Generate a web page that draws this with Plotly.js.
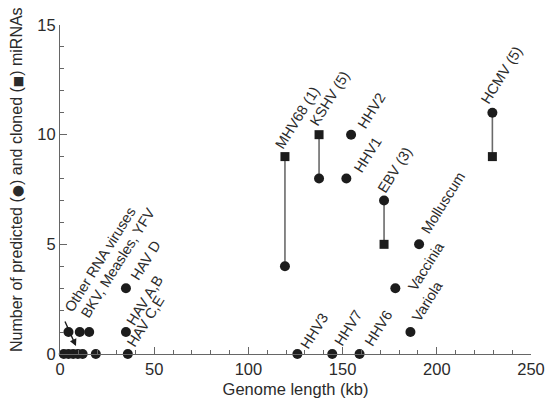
<!DOCTYPE html>
<html>
<head>
<meta charset="utf-8">
<script src="https://cdn.plot.ly/plotly-3.0.1.min.js"></script>
<style>html,body{margin:0;padding:0;background:#fff;}#chart{width:551px;height:401px;}</style>
</head>
<body>
<div id="chart"></div>
<script>
// Viruses with both predicted and cloned miRNAs
const pairedNames = ['MHV68 (1)', 'KSHV (5)', 'EBV (3)', 'HCMV (5)'];
const pairedLength = [119.4, 137.5, 172, 229.5];
const pairedPredicted = [4, 8, 7, 11];
const pairedCloned = [9, 10, 5, 9];

// Viruses with predicted miRNAs only (labelled)
const predNames = ['HHV2', 'HHV1', 'Molluscum', 'Vaccinia', 'Variola', 'HHV3', 'HHV7', 'HHV6', 'HAV D', 'HAV A,B', 'HAV C,E'];
const predLength = [154.5, 152, 190.6, 178, 186, 126, 144.5, 159, 35, 35, 36];
const predCount = [10, 8, 5, 3, 1, 0, 0, 0, 3, 1, 0];

// Small genomes (unlabelled cluster)
const bkvGroupLength = [4.5, 10.5, 15.5];      // BKV, Measles, YFV
const bkvGroupCount = [1, 1, 1];
const otherRnaLength = [2, 4.5, 7, 9.5, 12, 19]; // Other RNA viruses
const otherRnaCount = [0, 0, 0, 0, 0, 0];

const xTicks = [0, 50, 100, 150, 200, 250];
const yTicks = [0, 5, 10, 15];

// label placement (pixel shifts from the labelled point), kept apart from data
const labelShift = {
  'MHV68 (1)': [12, 39, 'cloned'],
  'KSHV (5)': [10, 36, 'cloned'],
  'EBV (3)': [11, 30, 'pred'],
  'HCMV (5)': [9, 38, 'pred'],
  'HHV2': [20, 24], 'HHV1': [21, 24], 'Molluscum': [24, 41], 'Vaccinia': [31, 22],
  'Variola': [17, 31], 'HHV3': [17, 23], 'HHV7': [16, 26], 'HHV6': [19, 26],
  'HAV D': [20, 28], 'HAV A,B': [19, 32], 'HAV C,E': [18, 33]
};

const ink = '#1c1c1c';
const txt = '#2b2b2b';
const fontFam = '"Liberation Sans", Arial, Helvetica, sans-serif';

// connector lines
const cx = [], cy = [];
pairedLength.forEach((L, i) => { cx.push(L, L, null); cy.push(pairedPredicted[i], pairedCloned[i], null); });

const traces = [
  {x: cx, y: cy, mode: 'lines', line: {color: '#6a6a6a', width: 1.6}, hoverinfo: 'skip', cliponaxis: false},
  {x: pairedLength, y: pairedPredicted, mode: 'markers', marker: {symbol: 'circle', size: 10, color: ink}, cliponaxis: false},
  {x: pairedLength, y: pairedCloned, mode: 'markers', marker: {symbol: 'square', size: 9, color: ink}, cliponaxis: false},
  {x: predLength, y: predCount, mode: 'markers', marker: {symbol: 'circle', size: 10, color: ink}, cliponaxis: false},
  {x: bkvGroupLength, y: bkvGroupCount, mode: 'markers', marker: {symbol: 'circle', size: 10, color: ink}, cliponaxis: false},
  {x: otherRnaLength, y: otherRnaCount, mode: 'markers', marker: {symbol: 'circle', size: 10, color: ink}, cliponaxis: false}
];

const ANG = -58;
const LFS = 14.5;
const annotations = [];
function addLabel(text, x, y, s) {
  annotations.push({text: text, x: x, y: y, xref: 'x', yref: 'y', showarrow: false,
    xanchor: 'center', yanchor: 'middle', xshift: s[0], yshift: s[1], textangle: ANG,
    font: {family: fontFam, size: LFS, color: txt}});
}
pairedNames.forEach((n, i) => {
  const s = labelShift[n];
  addLabel(n, pairedLength[i], s[2] === 'cloned' ? pairedCloned[i] : pairedPredicted[i], s);
});
predNames.forEach((n, i) => addLabel(n, predLength[i], predCount[i], labelShift[n]));
addLabel('Other RNA viruses', bkvGroupLength[0], bkvGroupCount[0], [32, 73]);
addLabel('BKV, Measles, YFV', bkvGroupLength[1], bkvGroupCount[1], [38, 69]);

// arrow from "Other RNA viruses" label to the cluster
annotations.push({x: 8.5, y: 0.36, xref: 'x', yref: 'y', ax: 2.3, ay: 1.55, axref: 'x', ayref: 'y',
  showarrow: true, text: '', arrowhead: 2, arrowsize: 1, arrowwidth: 1.4, arrowcolor: ink, standoff: 0});

// y-axis title as annotation
const dot = '<span style="font-family:DejaVu Sans;font-size:14px">●</span>';
const sq = '<span style="font-family:DejaVu Sans;font-size:12px">■</span>';
annotations.push({text: 'Number of predicted (' + dot + ') and cloned (' + sq + ') miRNAs', xref: 'paper', yref: 'paper',
  x: -0.0913, y: 0.532, xanchor: 'center', yanchor: 'middle', textangle: -90, showarrow: false,
  font: {family: fontFam, size: 16, color: txt}});

const layout = {
  width: 551, height: 401,
  margin: {l: 60, r: 20, t: 25, b: 47},
  paper_bgcolor: '#fff', plot_bgcolor: '#fff',
  showlegend: false,
  font: {family: fontFam, color: txt},
  xaxis: {
    range: [0, 250], tickvals: xTicks, ticktext: xTicks.map(String),
    ticks: 'inside', ticklen: 7, tickwidth: 1, tickcolor: '#666',
    minor: {dtick: 10, tick0: 0, ticks: 'inside', ticklen: 4, tickcolor: '#666', showgrid: false},
    showline: true, linecolor: '#666', linewidth: 1, showgrid: false, zeroline: false,
    tickfont: {family: fontFam, size: 16.5, color: txt},
    title: {text: 'Genome length (kb)', font: {family: fontFam, size: 16.5, color: txt}, standoff: 6},
    fixedrange: true
  },
  yaxis: {
    range: [0, 15], tickvals: yTicks, ticktext: yTicks.map(String),
    ticks: 'inside', ticklen: 7, tickwidth: 1, tickcolor: '#666',
    minor: {dtick: 1, tick0: 0, ticks: 'inside', ticklen: 4, tickcolor: '#666', showgrid: false},
    showline: true, linecolor: '#666', linewidth: 1, showgrid: false, zeroline: false,
    tickfont: {family: fontFam, size: 16.5, color: txt},
    fixedrange: true
  },
  annotations: annotations
};

Plotly.newPlot('chart', traces, layout, {displayModeBar: false, staticPlot: true});
</script>
</body>
</html>
